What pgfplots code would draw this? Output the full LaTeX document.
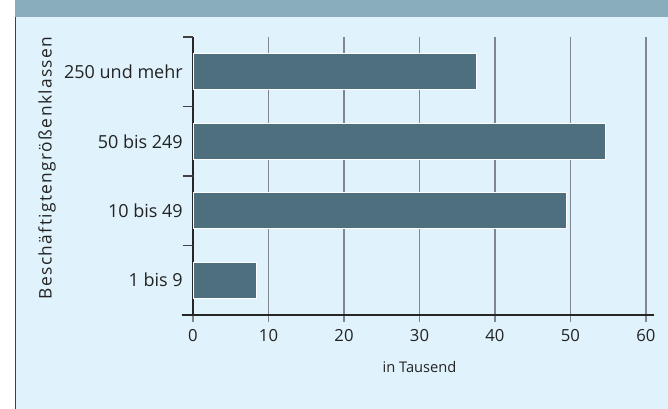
\documentclass[border=0pt]{standalone}
\usepackage{pgfplots}
\pgfplotsset{compat=1.18}
\usepackage{fontspec}
\setmainfont{Open Sans}
\definecolor{headblue}{RGB}{138,173,190}
\definecolor{bgblue}{RGB}{224,242,252}
\definecolor{barblue}{RGB}{78,111,126}
\definecolor{gridgray}{RGB}{128,134,142}
\definecolor{txt}{RGB}{35,35,35}
\begin{document}
\begin{tikzpicture}[x=0.75pt,y=-0.75pt]
% frame of the figure, in pixels of the reference
\useasboundingbox (0,0) rectangle (668,409);
\fill[white] (0,0) rectangle (668,409);
\fill[headblue] (15,0) rectangle (668,17.5);
\fill[bgblue] (15,17.5) rectangle (668,409);
\draw[black!75,line width=1.4pt] (15.5,17.5) -- (15.5,409);

\begin{axis}[
    at={(193pt*0.75,-315pt*0.75)}, anchor=south west,
    scale only axis,
    width=339.75pt, height=208.5pt,
    xbar, bar width=0.52,
    xmin=0, xmax=60, ymin=-0.5, ymax=3.5,
    clip=false,
    /pgf/number format/assume math mode=true,
    axis x line*=bottom, axis y line*=left,
    axis line style={black!85, line width=0.8pt},
    xtick={0,10,...,60},
    xmajorgrids,
    grid style={gridgray, line width=1.1pt},
    tick align=outside,
    major tick length=5.25pt,
    x tick style={gridgray, line width=1.1pt},
    xticklabel style={font=\fontsize{12.5}{14}\selectfont, text=txt, yshift=-2pt},
    ytick={0,1,2,3},
    yticklabels={1 bis 9,10 bis 49,50 bis 249,250 und mehr},
    y tick style={draw=none},
    yticklabel style={font=\fontsize{13.5}{15}\selectfont, text=txt, inner sep=0pt, xshift=-2.25pt},
    extra y ticks={-0.5,0.5,1.5,2.5,3.5},
    extra y tick labels={},
    extra y tick style={y tick style={draw=black!75, line width=0.8pt}, major tick length=7.5pt, tick align=outside, grid=none},
    xlabel={in Tausend},
    xlabel style={font=\fontsize{11}{13}\selectfont, text=txt, yshift=-8pt},
    ylabel={\addfontfeature{LetterSpace=8}Beschäftigtengrößenklassen},
    ylabel style={font=\fontsize{13}{15}\selectfont, text=txt, at={(axis description cs:-0.322,0.529)}, anchor=center},
]
\addplot[fill=barblue, draw=white, line width=0.5pt] coordinates {
    (8.4,0) (49.4,1) (54.6,2) (37.5,3)};
\draw[black!85, line width=0.8pt] (rel axis cs:-0.025,0) -- (rel axis cs:1.017,0);
\end{axis}
\end{tikzpicture}
\end{document}
